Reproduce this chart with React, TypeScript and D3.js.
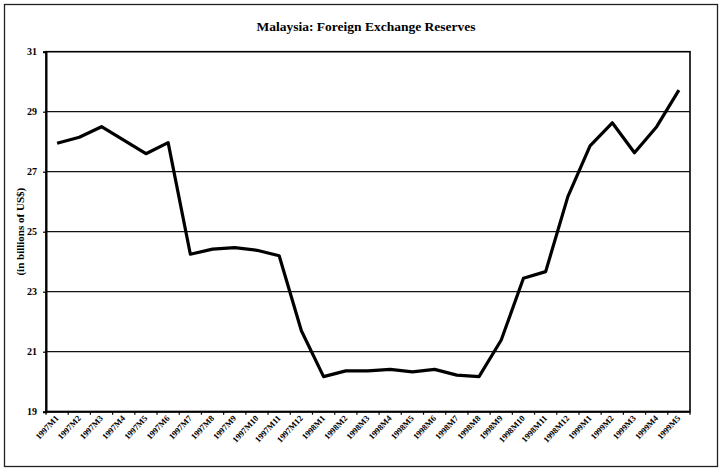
import React, { useRef, useEffect } from "react";
import * as d3 from "d3";

const months = [
  "1997M1", "1997M2", "1997M3", "1997M4", "1997M5", "1997M6", "1997M7", "1997M8",
  "1997M9", "1997M10", "1997M11", "1997M12", "1998M1", "1998M2", "1998M3", "1998M4",
  "1998M5", "1998M6", "1998M7", "1998M8", "1998M9", "1998M10", "1998M11", "1998M12",
  "1999M1", "1999M2", "1999M3", "1999M4", "1999M5",
];

const reserves = [
  27.95, 28.15, 28.5, 28.05, 27.6, 27.97, 24.25, 24.42, 24.47, 24.38, 24.2, 21.7,
  20.17, 20.36, 20.36, 20.41, 20.33, 20.41, 20.22, 20.17, 21.39, 23.45, 23.67, 26.17,
  27.86, 28.63, 27.63, 28.5, 29.72,
];

const yTicks = [19, 21, 23, 25, 27, 29, 31];

const App = () => {
  const svgRef = useRef<SVGSVGElement>(null);

  useEffect(() => {
    if (!svgRef.current) return;
    const width = 721;
    const height = 468;
    const left = 46;
    const right = 690;
    const top = 51.7;
    const bottom = 411.7;

    const svg = d3.select(svgRef.current).attr("width", width).attr("height", height);
    svg.selectAll("*").remove();

    // outer frame
    svg
      .append("rect")
      .attr("x", 4.5)
      .attr("y", 4.5)
      .attr("width", 713)
      .attr("height", 462)
      .attr("fill", "white")
      .attr("stroke", "#222")
      .attr("stroke-width", 1.3);

    const x = d3.scaleBand().domain(months).range([left, right]);
    const y = d3.scaleLinear().domain([19, 31]).range([bottom, top]);

    // gridlines
    svg
      .append("g")
      .selectAll("line")
      .data(yTicks.slice(1, -1))
      .join("line")
      .attr("x1", left)
      .attr("x2", right)
      .attr("y1", (d) => y(d))
      .attr("y2", (d) => y(d))
      .attr("stroke", "#111")
      .attr("stroke-width", 1.2);

    // plot frame
    svg
      .append("rect")
      .attr("x", left)
      .attr("y", top)
      .attr("width", right - left)
      .attr("height", bottom - top)
      .attr("fill", "none")
      .attr("stroke", "#000")
      .attr("stroke-width", 1.6);

    // y axis
    const yAxis = d3.axisLeft(y).tickValues(yTicks).tickSize(3).tickPadding(6);
    svg
      .append("g")
      .attr("transform", `translate(${left},0)`)
      .call(yAxis)
      .call((g) => g.select(".domain").attr("stroke-width", 2))
      .call((g) => g.selectAll(".tick line").attr("stroke-width", 1.2))
      .call((g) =>
        g
          .selectAll(".tick text")
          .attr("font-family", "'Liberation Serif', serif")
          .attr("font-weight", "bold")
          .attr("font-size", 10)
          .attr("fill", "#000")
      );

    // x axis
    const xTickPos = months.map((m) => x(m) as number).concat([right]);
    svg
      .append("g")
      .selectAll("line")
      .data(xTickPos)
      .join("line")
      .attr("x1", (d) => d)
      .attr("x2", (d) => d)
      .attr("y1", bottom)
      .attr("y2", bottom + 3)
      .attr("stroke", "#000")
      .attr("stroke-width", 1.2);
    svg
      .append("line")
      .attr("x1", left)
      .attr("x2", right)
      .attr("y1", bottom)
      .attr("y2", bottom)
      .attr("stroke", "#000")
      .attr("stroke-width", 2);

    svg
      .append("g")
      .selectAll("text")
      .data(months)
      .join("text")
      .attr(
        "transform",
        (d) => `translate(${(x(d) as number) + x.bandwidth() / 2 + 2},${bottom + 7}) rotate(-47)`
      )
      .attr("text-anchor", "end")
      .attr("font-family", "'Liberation Serif', serif")
      .attr("font-weight", "bold")
      .attr("font-size", 8.5)
      .attr("fill", "#000")
      .text((d) => d);

    // y label
    svg
      .append("text")
      .attr("transform", `translate(${24},${(top + bottom) / 2}) rotate(-90)`)
      .attr("text-anchor", "middle")
      .attr("font-family", "'Liberation Serif', serif")
      .attr("font-weight", "bold")
      .attr("font-size", 11)
      .text("(in billions of US$)");

    // title
    svg
      .append("text")
      .attr("x", 366)
      .attr("y", 31)
      .attr("text-anchor", "middle")
      .attr("font-family", "'Liberation Serif', serif")
      .attr("font-weight", "bold")
      .attr("font-size", 13.5)
      .text("Malaysia: Foreign Exchange Reserves");

    // line
    const line = d3
      .line<number>()
      .x((_, i) => (x(months[i]) as number) + x.bandwidth() / 2)
      .y((d) => y(d));
    svg
      .append("path")
      .datum(reserves)
      .attr("d", line)
      .attr("fill", "none")
      .attr("stroke", "#000")
      .attr("stroke-width", 3.2)
      .attr("stroke-linejoin", "round");
  }, []);

  return (
    <svg
      ref={svgRef}
      style={{ position: "absolute", left: 0, top: 0, display: "block" }}
    ></svg>
  );
};

export default App;
